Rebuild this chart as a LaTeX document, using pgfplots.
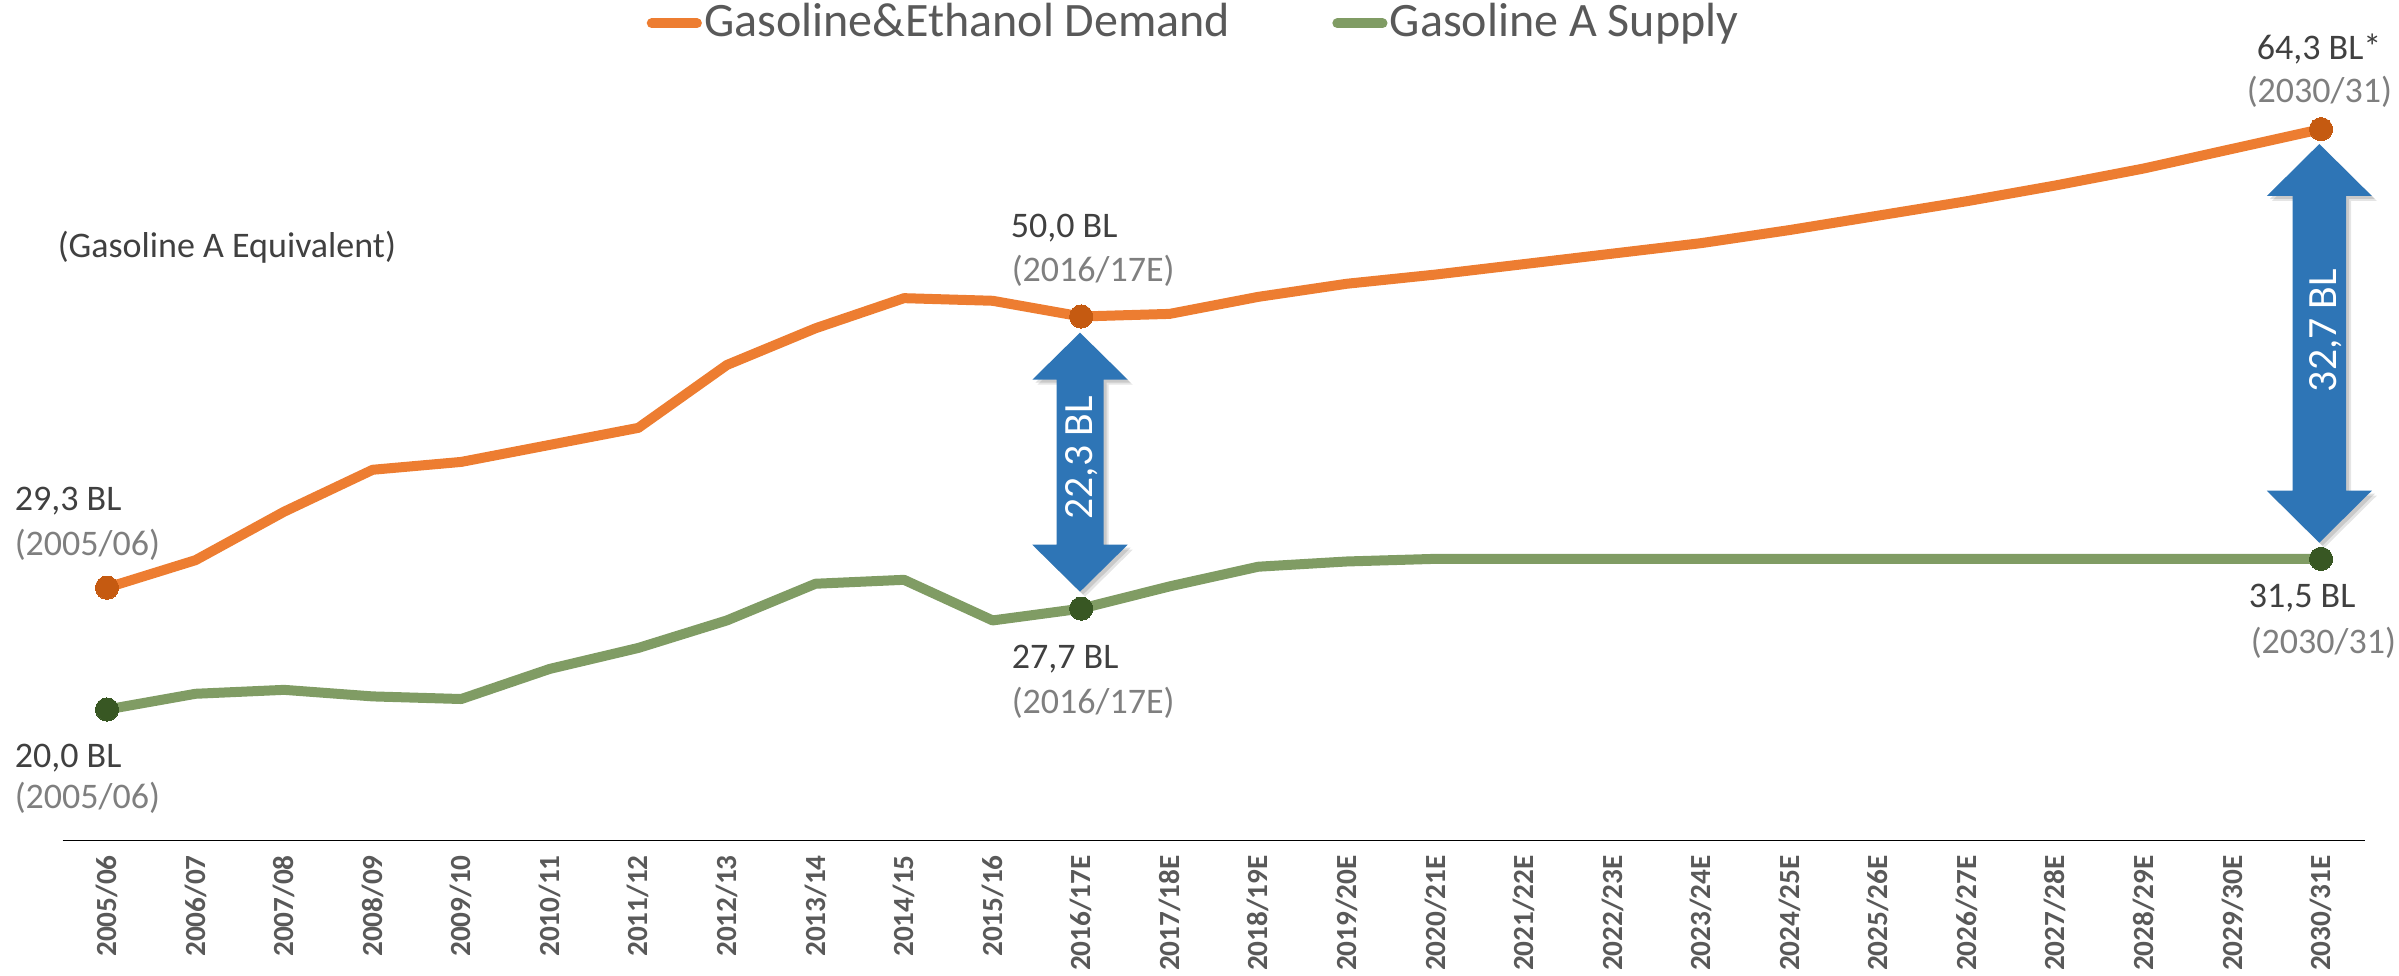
\documentclass[border=0pt]{standalone}
\usepackage{fontspec}
\setmainfont{Carlito}
\usepackage{pgfplots}
\pgfplotsset{compat=1.18}
\definecolor{demand}{HTML}{ED7D31}
\definecolor{demanddot}{HTML}{C55A11}
\definecolor{supply}{HTML}{809C64}
\definecolor{supplydot}{HTML}{385723}
\definecolor{arrowblue}{HTML}{2E75B6}
\definecolor{txtdark}{HTML}{404040}
\definecolor{txtgray}{HTML}{7F7F7F}
\definecolor{ticktxt}{HTML}{595959}
\definecolor{baseline}{HTML}{D9D9D9}
% x, ytop, ybot, half head width, half shaft width, head length (all in px)
\newcommand{\dblarrow}[7][]{%
  \fill[#1] (#2,#3) -- (#2+#5,#3+#7) -- (#2+#6,#3+#7) -- (#2+#6,#4-#7) -- (#2+#5,#4-#7)
   -- (#2,#4) -- (#2-#5,#4-#7) -- (#2-#6,#4-#7) -- (#2-#6,#3+#7) -- (#2-#5,#3+#7) -- cycle;}
\begin{document}
\begin{tikzpicture}
\begin{axis}[
  at={(0,0)}, anchor=south west, scale only axis,
  width=575.65pt, height=196.5pt,
  xmin=-0.5, xmax=25.5, ymin=10, ymax=70,
  axis line style={draw=none}, tick style={draw=none},
  major tick length=0pt,
  ytick=\empty,
  xtick={0,...,25},
  xticklabels={2005/06,2006/07,2007/08,2008/09,2009/10,2010/11,2011/12,2012/13,2013/14,2014/15,2015/16,2016/17E,2017/18E,2018/19E,2019/20E,2020/21E,2021/22E,2022/23E,2023/24E,2024/25E,2025/26E,2026/27E,2027/28E,2028/29E,2029/30E,2030/31E},
  xticklabel style={yshift=-3.5pt, rotate=90, anchor=east, inner sep=0pt,
    font=\fontsize{7.3}{9}\selectfont\bfseries, text=ticktxt},
  clip=false,
  legend columns=2,
  legend style={at={(rel axis cs:0.2533,1.0397)}, anchor=west, draw=none, fill=none,
    inner sep=0pt, font=\fontsize{12}{14}\selectfont, text=ticktxt,
    nodes={inner sep=0pt},
    /tikz/every odd column/.append style={column sep=0.6pt},
    /tikz/every even column/.append style={column sep=25.5pt}},
  legend image code/.code={\draw[#1, line width=2.5pt, line cap=round] (0pt,0pt) -- (11.3pt,0pt);},
]
\draw[baseline, line width=0.4pt] (rel axis cs:0,0) -- (rel axis cs:1,0);
\addplot[demand, line width=2.5pt, line join=round] coordinates {
(0,29.3) (1,31.4) (2,35.1) (3,38.3) (4,38.9) (5,40.2) (6,41.5) (7,46.3) (8,49.1) (9,51.4)
(10,51.2) (11,50.0) (12,50.2) (13,51.5) (14,52.5) (15,53.2) (16,54.0) (17,54.8) (18,55.6)
(19,56.6) (20,57.7) (21,58.8) (22,60.0) (23,61.3) (24,62.8) (25,64.3)};
\addlegendentry{Gasoline\&Ethanol Demand}
\addplot[supply, line width=2.5pt, line join=round] coordinates {
(0,20.0) (1,21.2) (2,21.5) (3,21.0) (4,20.8) (5,23.1) (6,24.7) (7,26.8) (8,29.6) (9,29.9)
(10,26.8) (11,27.7) (12,29.4) (13,30.9) (14,31.3) (15,31.5) (16,31.5) (17,31.5) (18,31.5)
(19,31.5) (20,31.5) (21,31.5) (22,31.5) (23,31.5) (24,31.5) (25,31.5)};
\addlegendentry{Gasoline A Supply}
\addplot[forget plot, demanddot, only marks, mark=*, mark size=2.9pt, mark options={fill=demanddot, draw=demanddot, line width=0pt}]
  coordinates {(0,29.3) (11,50.0) (25,64.3)};
\addplot[forget plot, supplydot, only marks, mark=*, mark size=2.9pt, mark options={fill=supplydot, draw=supplydot, line width=0pt}]
  coordinates {(0,20.0) (11,27.7) (25,31.5)};
\end{axis}
\begin{scope}[x=0.25pt,y=-0.25pt,shift={(-15.675pt,210.125pt)}]
% arrows with soft shadow
\dblarrow[black,opacity=0.10]{1085}{337.7}{596.7}{47.7}{23.5}{47}
\dblarrow[black,opacity=0.12]{1083}{335.7}{594.7}{47.7}{23.5}{47}
\dblarrow[arrowblue]{1080}{332.7}{591.7}{47.7}{23.5}{47}
\dblarrow[black,opacity=0.10]{2324.3}{149}{547.7}{52.5}{26.7}{52}
\dblarrow[black,opacity=0.12]{2322.3}{147}{545.7}{52.5}{26.7}{52}
\dblarrow[arrowblue]{2319.3}{144}{542.7}{52.5}{26.7}{52}
\node[rotate=90, anchor=base, inner sep=0pt, text=white, font=\fontsize{10.4}{12}\selectfont] at (1092,458) {22,3 BL};
\node[rotate=90, anchor=base, inner sep=0pt, text=white, font=\fontsize{10.4}{12}\selectfont] at (2336.7,330.5) {32,7 BL};
% labels
\tikzset{val/.style={anchor=base west, inner sep=0pt, text=txtdark, font=\fontsize{9}{11}\selectfont},
         yr/.style={anchor=base west, inner sep=0pt, text=txtgray, font=\fontsize{9}{11}\selectfont}}
\node[val] at (57,258) {(Gasoline A Equivalent)};
\node[val] at (1010,237.3) {50,0 BL};
\node[yr]  at (1011,282) {(2016/17E)};
\node[val] at (2256,60) {64,3 BL*};
\node[yr]  at (2246,103) {(2030/31)};
\node[val] at (14,510) {29,3 BL};
\node[yr]  at (14,555) {(2005/06)};
\node[val] at (14,767) {20,0 BL};
\node[yr]  at (14,808) {(2005/06)};
\node[val] at (1011,668) {27,7 BL};
\node[yr]  at (1011,713) {(2016/17E)};
\node[val] at (2248,608) {31,5 BL};
\node[yr]  at (2250,653) {(2030/31)};
\pgfresetboundingbox
\path[use as bounding box] (0,0) rectangle (2399,975);
\end{scope}
\end{tikzpicture}
\end{document}
